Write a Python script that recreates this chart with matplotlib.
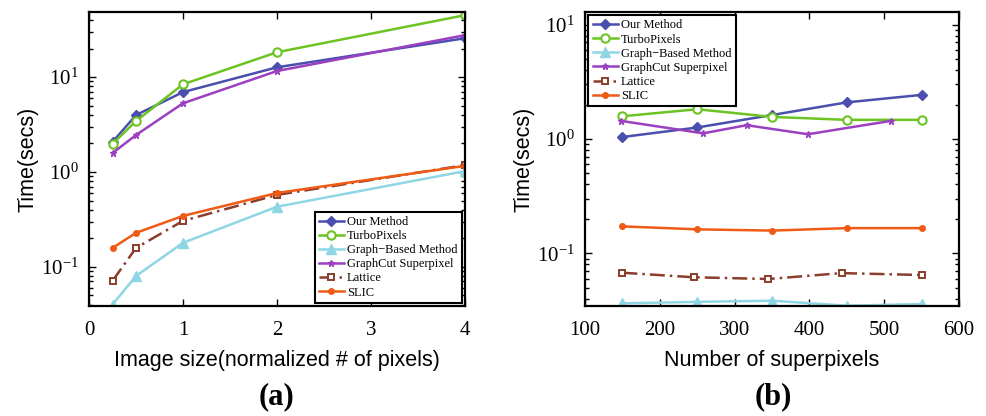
import numpy as np
import matplotlib
matplotlib.use("Agg")
import matplotlib.pyplot as plt
from matplotlib.ticker import LogLocator, NullFormatter, MultipleLocator

methods = ["Our Method", "TurboPixels", "Graph\u2212Based Method",
           "GraphCut Superpixel", "Lattice", "SLIC"]

# (a) время от размера изображения
size_x = [0.25, 0.5, 1, 2, 4]
a_our = [2.07, 3.98, 6.95, 12.7, 25.7]
a_turbo = [1.97, 3.44, 8.4, 18.3, 45.0]
a_graph = [0.040, 0.080, 0.179, 0.43, 1.02]
a_gcut = [1.58, 2.45, 5.3, 11.6, 27.7]
a_lattice = [0.071, 0.158, 0.305, 0.573, 1.18]
a_slic = [0.158, 0.228, 0.344, 0.60, 1.16]

# (b) время от числа суперпикселей
sp_x = [150, 250, 350, 450, 550]
gcut_x = [148, 258, 316, 398, 509]
lattice_x = [150, 246, 345, 443, 550]
b_our = [1.04, 1.26, 1.62, 2.09, 2.43]
b_turbo = [1.58, 1.82, 1.56, 1.47, 1.47]
b_graph = [0.0365, 0.0376, 0.0385, 0.0348, 0.036]
b_gcut = [1.44, 1.12, 1.32, 1.10, 1.44]
b_lattice = [0.0676, 0.0617, 0.0596, 0.0671, 0.0646]
b_slic = [0.172, 0.162, 0.158, 0.166, 0.166]

colors = ["#4a4fae", "#6cc423", "#8fd6e4", "#9a40c0", "#8b3e2c", "#ef5a14"]
styles = [
    dict(marker="D", ms=5, mfc=colors[0]),
    dict(marker="o", ms=6, mfc="white", mew=1.5),
    dict(marker="^", ms=7, mfc=colors[2]),
    dict(marker="*", ms=5, mfc=colors[3]),
    dict(marker="s", ms=5, mfc="white", mew=1.4, ls=(0, (6, 2, 1, 2))),
    dict(marker="o", ms=4, mfc=colors[5]),
]

serif = "Liberation Serif"
sans = "Liberation Sans"

fig = plt.figure(figsize=(9.86, 4.16), dpi=100)
axa = fig.add_axes([89 / 986, 110 / 416, 376 / 986, 294 / 416])
axb = fig.add_axes([585 / 986, 110 / 416, 374 / 986, 294 / 416])


def draw(ax, xs, series):
    for (x, y), c, st, lab in zip(zip(xs, series), colors, styles, methods):
        kw = dict(st)
        ls = kw.pop("ls", "-")
        ax.plot(x, y, color=c, lw=1.8, ls=ls, mec=c, label=lab, **kw)
    ax.set_yscale("log")
    ax.yaxis.set_major_locator(LogLocator(base=10))
    ax.yaxis.set_minor_locator(LogLocator(base=10, subs=np.arange(2, 10)))
    ax.yaxis.set_minor_formatter(NullFormatter())
    ax.tick_params(which="both", direction="in", top=True, right=True,
                   labelsize=15, width=1)
    ax.tick_params(which="major", length=5)
    ax.tick_params(which="minor", length=3)
    ax.tick_params(axis="x", pad=11)
    ax.tick_params(axis="y", pad=7.5)
    for s in ax.spines.values():
        s.set_linewidth(1.6)
    ax.set_ylabel("Time(secs)", family=sans, fontsize=15.5, labelpad=2)


draw(axa, [size_x] * 6, [a_our, a_turbo, a_graph, a_gcut, a_lattice, a_slic])
axa.set_xlim(0, 4)
axa.set_ylim(0.0386, 48.6)
axa.xaxis.set_major_locator(MultipleLocator(1))
axa.set_xlabel("Image size(normalized # of pixels)", family=sans, fontsize=15.5, labelpad=7)

draw(axb, [sp_x, sp_x, sp_x, gcut_x, lattice_x, sp_x],
     [b_our, b_turbo, b_graph, b_gcut, b_lattice, b_slic])
axb.set_xlim(100, 600)
axb.set_ylim(0.0346, 12.9)
axb.xaxis.set_major_locator(MultipleLocator(100))
axb.set_xlabel("Number of superpixels", family=sans, fontsize=15.5, labelpad=7)

for ax in (axa, axb):
    for lbl in ax.get_xticklabels() + ax.get_yticklabels():
        lbl.set_fontfamily(serif)

leg_kw = dict(prop={"family": serif, "size": 9}, fancybox=False, edgecolor="black",
              framealpha=1, handlelength=2.0, handletextpad=0.25, labelspacing=0.17,
              borderpad=0.35, borderaxespad=0.25)
la = axa.legend(loc="lower right", **leg_kw)
lb = axb.legend(loc="upper left", **leg_kw)
for lg in (la, lb):
    lg.get_frame().set_linewidth(1.5)

fig.text(277 / 986, 1 - 397 / 416, "(a)", family=serif, weight="bold", fontsize=22,
         ha="center", va="center")
fig.text(773 / 986, 1 - 397 / 416, "(b)", family=serif, weight="bold", fontsize=22,
         ha="center", va="center")

fig.savefig("out.png", dpi=100)
